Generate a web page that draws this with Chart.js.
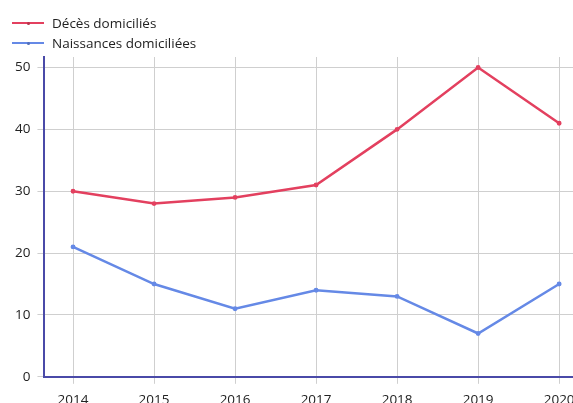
<!DOCTYPE html>
<html>
<head>
<meta charset="utf-8">
<script src="https://cdn.jsdelivr.net/npm/chart.js@4/dist/chart.umd.min.js"></script>
<style>
    html, body { margin: 0; padding: 0; overflow: hidden; background: #fff; }
    .wrap { position: relative; width: 590px; height: 416px; }
    .legend { position: absolute; left: 12px; top: 13px; font-family: 'Open Sans', sans-serif; font-size: 13.5px; color: #222; }
    .legend div { height: 20px; display: flex; align-items: center; }
    .legend span.line { position: relative; display: inline-block; width: 32px; height: 2px; margin-right: 8px; }
    .legend span.line::after { content: ''; position: absolute; left: 15px; top: -0.5px; width: 3px; height: 3px; border-radius: 50%; background: inherit; filter: brightness(0.8); }
</style>
</head>
<body>
<div class="wrap">
    <canvas id="chart"></canvas>
    <div class="legend" id="legend"></div>
</div>
<script>
const years = [2014, 2015, 2016, 2017, 2018, 2019, 2020];
const deces = [30, 28, 29, 31, 40, 50, 41];
const naissances = [21, 15, 11, 14, 13, 7, 15];
const seriesLabels = ['Décès domiciliés', 'Naissances domiciliées'];
const seriesColors = ['#e3405f', '#6589e6'];

const toPoints = (vals) => years.map((y, i) => ({ x: y, y: vals[i] }));

document.addEventListener('DOMContentLoaded', () => {
    const font = { family: "'Open Sans', sans-serif", size: 13.5 };

    const ctx = document.getElementById('chart').getContext('2d');
    const chart = new Chart(ctx, {
        type: 'line',
        data: {
            datasets: [deces, naissances].map((vals, i) => ({
                label: seriesLabels[i],
                data: toPoints(vals),
                borderColor: seriesColors[i],
                backgroundColor: seriesColors[i],
                borderWidth: 2.5,
                pointRadius: 1.2,
                pointHoverRadius: 3,
                tension: 0
            }))
        },
        options: {
            responsive: true,
            maintainAspectRatio: false,
            animation: false,
            layout: { padding: { top: 57, left: 8, right: 0, bottom: 0 } },
            plugins: {
                legend: { display: false },
                tooltip: { enabled: true }
            },
            scales: {
                x: {
                    type: 'linear',
                    min: 2013.647,
                    max: 2020.313,
                    ticks: {
                        stepSize: 1,
                        includeBounds: false,
                        padding: 8,
                        color: '#222',
                        font: font,
                        callback: (v) => String(v)
                    },
                    grid: { color: '#cfcfcf', tickLength: 7 },
                    border: { color: '#4a4aa8', width: 2 }
                },
                y: {
                    min: 0,
                    max: 51.7,
                    ticks: {
                        stepSize: 10,
                        includeBounds: false,
                        padding: 7,
                        color: '#222',
                        font: font
                    },
                    grid: { color: '#cfcfcf', tickLength: 7 },
                    border: { color: '#4a4aa8', width: 2 }
                }
            }
        }
    });

    // HTML legend, stacked like the original
    const legend = document.getElementById('legend');
    chart.data.datasets.forEach(ds => {
        const row = document.createElement('div');
        const line = document.createElement('span');
        line.className = 'line';
        line.style.background = ds.borderColor;
        row.appendChild(line);
        row.appendChild(document.createTextNode(ds.label));
        legend.appendChild(row);
    });
});
</script>
</body>
</html>
